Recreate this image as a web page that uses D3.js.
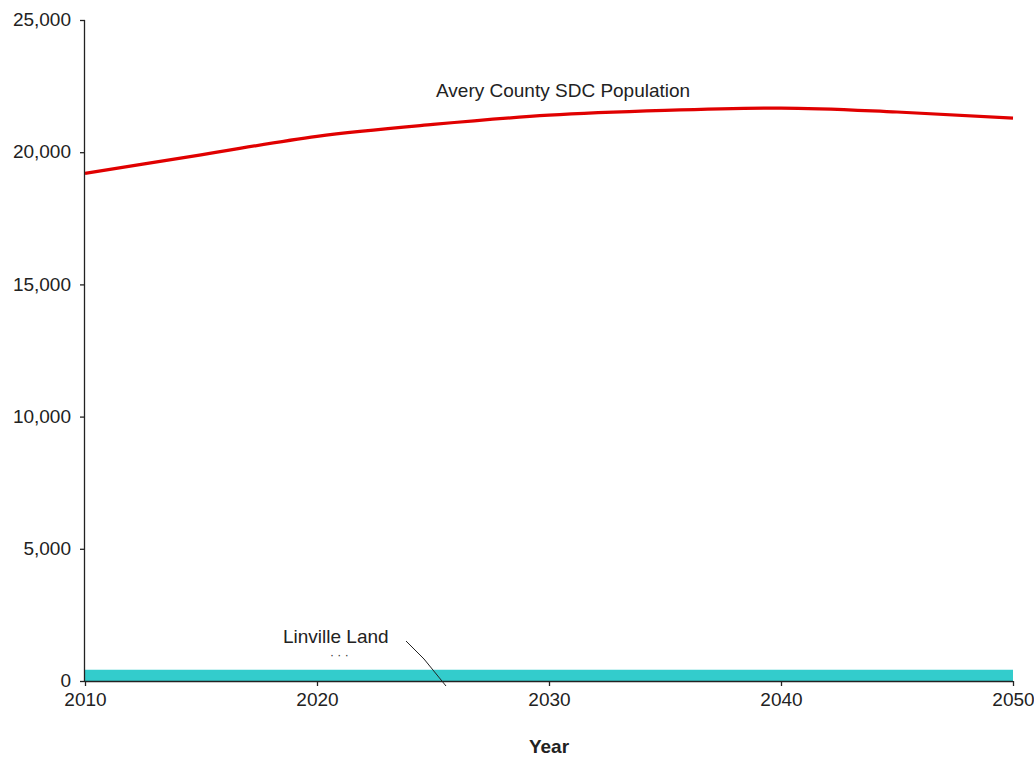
<!DOCTYPE html>
<html>
<head>
<meta charset="utf-8">
<script src="https://cdn.jsdelivr.net/npm/d3@7"></script>
<style>
  html, body { margin: 0; padding: 0; background: #fff; }
  svg { display: block; font-family: "Liberation Sans", Arial, sans-serif; }
</style>
</head>
<body>
<svg id="chart" width="1034" height="757"></svg>
<script>
// Population projection, Avery County (State Data Center)
const years = [2010, 2015, 2020, 2025, 2030, 2035, 2040, 2045, 2050];
const averyPopulation = [19200, 19900, 20600, 21050, 21400, 21580, 21670, 21520, 21290];

// Linville Land capacity band (constant across the period)
const linvilleYears = [2010, 2050];
const linvilleValues = [430, 430];

const yTicks = [0, 5000, 10000, 15000, 20000, 25000];
const xTicks = [2010, 2020, 2030, 2040, 2050];

const svg = d3.select("#chart");
const plotLeft = 85, plotRight = 1013, plotTop = 20, plotBottom = 681;
const fontSize = "19px";

const x = d3.scaleLinear().domain([2010, 2050]).range([plotLeft, plotRight]);
const y = d3.scaleLinear().domain([0, 25000]).range([plotBottom, plotTop]);

// Linville Land area
svg.append("path")
  .datum(linvilleYears.map((yr, i) => [yr, linvilleValues[i]]))
  .attr("fill", "#33cccc")
  .attr("d", d3.area().x(d => x(d[0])).y0(y(0)).y1(d => y(d[1])));

// Avery County line
svg.append("path")
  .datum(years.map((yr, i) => [yr, averyPopulation[i]]))
  .attr("fill", "none")
  .attr("stroke", "#e00000")
  .attr("stroke-width", 3.2)
  .attr("d", d3.line().x(d => x(d[0])).y(d => y(d[1])).curve(d3.curveMonotoneX));

// Axes
const fmt = d3.format(",");
const yAxis = svg.append("g")
  .attr("transform", `translate(${plotLeft},0)`)
  .call(d3.axisLeft(y).tickValues(yTicks).tickFormat(fmt).tickSize(5).tickPadding(9));
const xAxis = svg.append("g")
  .attr("transform", `translate(0,${plotBottom})`)
  .call(d3.axisBottom(x).tickValues(xTicks).tickFormat(d3.format("d")).tickSize(5).tickPadding(7));

[yAxis, xAxis].forEach(g => {
  g.select(".domain").attr("stroke", "#222").attr("stroke-width", 1.3);
  g.selectAll(".tick line").attr("stroke", "#222").attr("stroke-width", 1.3);
  g.selectAll(".tick text")
    .attr("fill", "#222")
    .style("font-family", "'Liberation Sans', Arial, sans-serif")
    .style("font-size", fontSize);
});
yAxis.selectAll(".tick text").attr("dy", "0.3em");
yAxis.select(".domain").attr("d", `M-0.5,${plotTop}V${plotBottom}`);
xAxis.select(".domain").attr("d", `M${plotLeft},0.5H${plotRight}`);

// Axis title
svg.append("text")
  .attr("x", x(2030))
  .attr("y", 753)
  .attr("text-anchor", "middle")
  .attr("font-size", fontSize)
  .attr("font-weight", "bold")
  .attr("fill", "#222")
  .text("Year");

// Series labels
svg.append("text")
  .attr("x", 436)
  .attr("y", 97)
  .attr("font-size", fontSize)
  .attr("fill", "#222")
  .text("Avery County SDC Population");

svg.append("text")
  .attr("x", 283)
  .attr("y", 643)
  .attr("font-size", fontSize)
  .attr("fill", "#222")
  .text("Linville Land");

svg.append("text")
  .attr("x", 330)
  .attr("y", 659)
  .attr("font-size", "12px")
  .attr("fill", "#333")
  .text("·  ·    ·");

// Leader line from the Linville label to its band
svg.append("path")
  .attr("d", "M406,641L424,659L446,686")
  .attr("fill", "none")
  .attr("stroke", "#222")
  .attr("stroke-width", 1);
</script>
</body>
</html>
